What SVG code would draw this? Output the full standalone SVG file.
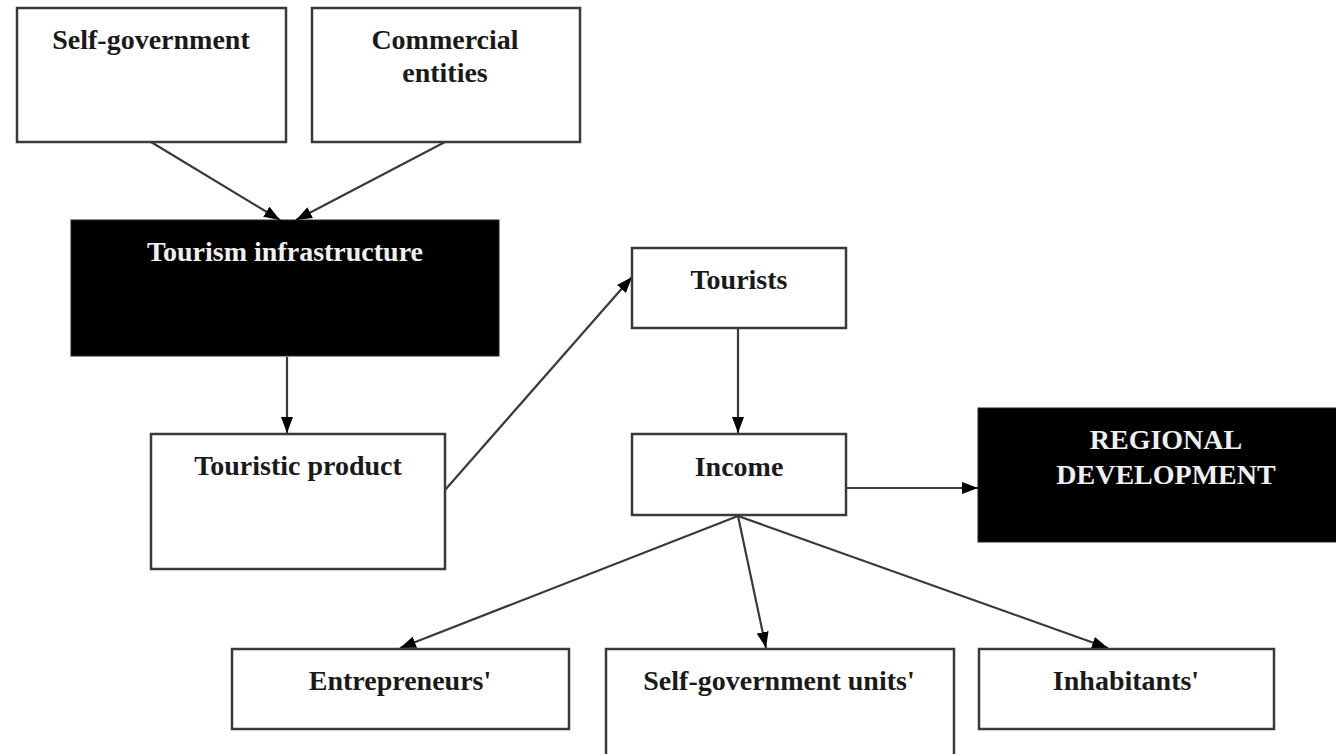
<svg xmlns="http://www.w3.org/2000/svg" width="1336" height="754" viewBox="0 0 1336 754">
<style>
.box{fill:#fff;stroke:#3a3a3a;stroke-width:2.5}
.dark{fill:#000;stroke:#222;stroke-width:1}
.t{font-family:"Liberation Serif","Times New Roman",serif;font-weight:bold;font-size:28px;fill:#1a1a1a;text-anchor:middle}
.tw{font-family:"Liberation Serif","Times New Roman",serif;font-weight:bold;font-size:28px;fill:#f0f0f0;text-anchor:middle}
.c{stroke:#3a3a3a;stroke-width:2.2;fill:none}
</style>
<defs>
<marker id="ah" viewBox="0 0 16 12" refX="16" refY="6" markerWidth="16" markerHeight="12" markerUnits="userSpaceOnUse" orient="auto">
<path d="M0,0 L16,6 L0,12 Z" fill="#000"/>
</marker>
</defs>
<rect width="1336" height="754" fill="#fff"/>
<g id="connectors">
<line class="c" x1="151" y1="142" x2="280" y2="220" marker-end="url(#ah)"/>
<line class="c" x1="445" y1="142" x2="296" y2="220" marker-end="url(#ah)"/>
<line class="c" x1="287" y1="357" x2="287" y2="433" marker-end="url(#ah)"/>
<line class="c" x1="445" y1="490" x2="632" y2="277" marker-end="url(#ah)"/>
<line class="c" x1="738" y1="328" x2="738" y2="433" marker-end="url(#ah)"/>
<line class="c" x1="847" y1="488" x2="978" y2="488" marker-end="url(#ah)"/>
<line class="c" x1="738" y1="516" x2="400" y2="648" marker-end="url(#ah)"/>
<line class="c" x1="738" y1="516" x2="766" y2="648" marker-end="url(#ah)"/>
<line class="c" x1="738" y1="516" x2="1108" y2="648" marker-end="url(#ah)"/>
</g>
<g id="selfgov">
<rect class="box" x="17" y="8" width="269" height="134"/>
<text class="t" x="151" y="49">Self-government</text>
</g>
<g id="commercial">
<rect class="box" x="312" y="8" width="268" height="134"/>
<text class="t" x="445" y="49">Commercial</text>
<text class="t" x="445" y="82">entities</text>
</g>
<g id="infrastructure">
<rect class="dark" x="71" y="220" width="428" height="136"/>
<text class="tw" x="285" y="261">Tourism infrastructure</text>
</g>
<g id="product">
<rect class="box" x="151" y="434" width="294" height="135"/>
<text class="t" x="298" y="475">Touristic product</text>
</g>
<g id="tourists">
<rect class="box" x="632" y="248" width="214" height="80"/>
<text class="t" x="739" y="289">Tourists</text>
</g>
<g id="income">
<rect class="box" x="632" y="434" width="214" height="81"/>
<text class="t" x="739" y="476">Income</text>
</g>
<g id="regional">
<rect class="dark" x="978" y="408" width="360" height="134"/>
<text class="tw" x="1166" y="449">REGIONAL</text>
<text class="tw" x="1166" y="484">DEVELOPMENT</text>
</g>
<g id="entrepreneurs">
<rect class="box" x="232" y="649" width="337" height="80"/>
<text class="t" x="400" y="690">Entrepreneurs'</text>
</g>
<g id="units">
<rect class="box" x="606" y="649" width="348" height="110"/>
<text class="t" x="779" y="690">Self-government units'</text>
</g>
<g id="inhabitants">
<rect class="box" x="979" y="649" width="295" height="80"/>
<text class="t" x="1126" y="690">Inhabitants'</text>
</g>
</svg>
